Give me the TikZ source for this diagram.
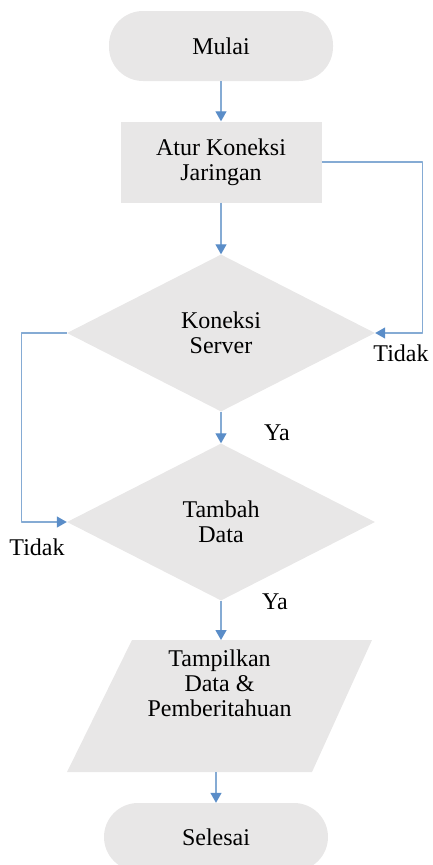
\documentclass[tikz,border=0pt]{standalone}
\usepackage{fontspec}
\setmainfont{Liberation Serif}
\usetikzlibrary{shapes.geometric,arrows.meta}
\definecolor{isi}{HTML}{E8E7E7}
\definecolor{garis}{HTML}{85ABD4}
\definecolor{ujung}{HTML}{5A8DC8}
\tikzset{
	terminal/.style={draw=none, fill=isi, rounded corners=34pt, minimum width=224pt, minimum height=70pt, inner sep=0pt},
	proses/.style={draw=none, fill=isi, minimum width=201pt, minimum height=81pt, align=center, inner sep=0pt},
	keputusan/.style={diamond, draw=none, fill=isi, minimum width=308pt, minimum height=157pt, align=center, inner sep=0pt},
	panah/.style={draw=garis, line width=1.3pt, -{Triangle[width=11pt,length=10pt,fill=ujung,color=ujung]}},
	ket/.style={inner sep=0pt}
}
\begin{document}
\begin{tikzpicture}[x=1pt, y=-1pt, font=\fontsize{24}{25}\selectfont, line join=round]
	\useasboundingbox (0,0) rectangle (432,865);
	\path
	(132,640) coordinate (tampilA)
	(372,640) coordinate (tampilB)
	(312,772) coordinate (tampilC)
	(67,772) coordinate (tampilD)
	(221,640) coordinate (tampilatas)
	(216,772) coordinate (tampilbawah)
	;
	% jajaran genjang untuk keluaran
	\fill[isi] (tampilA)--(tampilB)--(tampilC)--(tampilD)--cycle;
	\path
	(221,46) node[terminal] (mulai) {Mulai}
	(221,162) node[proses] (atur) {Atur Koneksi\\Jaringan}
	(221,333) node[keputusan] (server) {Koneksi\\Server}
	(221,522) node[keputusan] (tambah) {Tambah\\Data}
	(219.5,683) node[align=center, inner sep=0pt] (tampil) {Tampilkan\\Data \&\\Pemberitahuan}
	(216,837) node[terminal, minimum height=68pt] (selesai) {Selesai}
	;
	\draw[panah] (mulai) -- (atur);
	\draw[panah] (atur) -- (server);
	\draw[panah] (server) -- (tambah);
	\draw[panah] (tambah.south) -- (tampilatas);
	\draw[panah] (tampilbawah) -- (selesai.north);
	% cabang Tidak
	\draw[panah] (atur.east) -- ++(101,0) |- (server.east);
	\draw[panah] (server.west) -- ++(-45,0) |- (tambah.west);
	\foreach \n/\p/\t in {tidaka/{(401,353)}/Tidak, tidakb/{(37,547)}/Tidak, yaa/{(277,433)}/Ya, yab/{(275,602)}/Ya}
		{\node[ket] (\n) at \p {\t};}
\end{tikzpicture}
\end{document}
